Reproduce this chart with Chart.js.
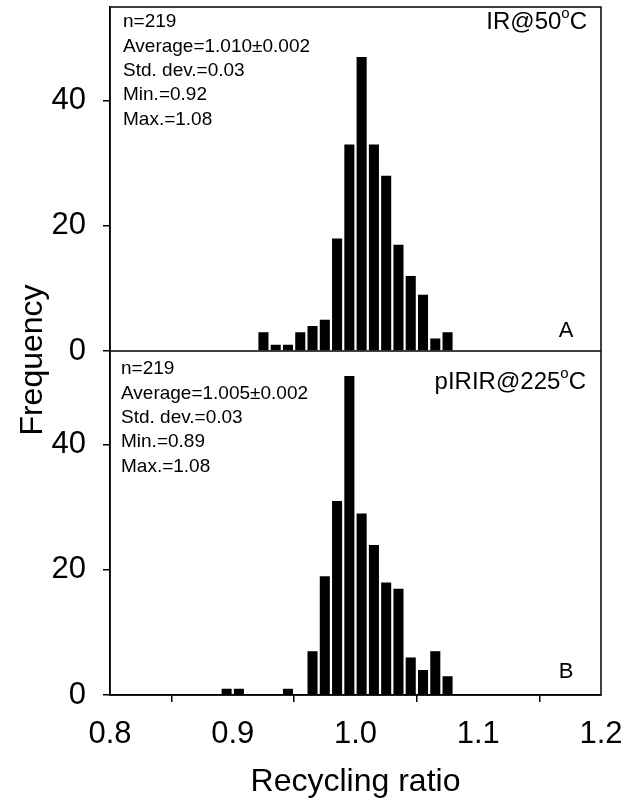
<!DOCTYPE html>
<html>
<head>
<meta charset="utf-8">
<script src="https://cdn.jsdelivr.net/npm/chart.js@4/dist/chart.umd.min.js"></script>
<style>
html,body{margin:0;padding:0;background:#fff;}
#wrap{position:relative;width:633px;height:802px;}
</style>
</head>
<body>
<div id="wrap"><canvas id="c"></canvas></div>
<script>
// Bin centres (recycling ratio) and frequencies
const binsA = [0.925,0.935,0.945,0.955,0.965,0.975,0.985,0.995,1.005,1.015,1.025,1.035,1.045,1.055,1.065,1.075];
const freqA = [3,1,1,3,4,5,18,33,47,33,28,17,12,9,2,3];
const binsB = [0.895,0.905,0.945,0.965,0.975,0.985,0.995,1.005,1.015,1.025,1.035,1.045,1.055,1.065,1.075];
const freqB = [1,1,1,7,19,31,51,29,24,18,17,6,4,7,3];

const xTicks = [0.8,0.9,1.0,1.1,1.2];
const yTicks = [0,20,40];

const statsA = ["n=219","Average=1.010\u00b10.002","Std. dev.=0.03","Min.=0.92","Max.=1.08"];
const statsB = ["n=219","Average=1.005\u00b10.002","Std. dev.=0.03","Min.=0.89","Max.=1.08"];
const labelA = {main:"IR@50", sup:"o", tail:"C", panel:"A"};
const labelB = {main:"pIRIR@225", sup:"o", tail:"C", panel:"B"};
const xTitle = "Recycling ratio";
const yTitle = "Frequency";

const FONT = "Arial, 'Liberation Sans', sans-serif";

function pts(xs, ys){ return xs.map((x,i)=>({x:x, y:ys[i]})); }

const decor = {
  id:'decor',
  afterDraw(chart){
    const ctx = chart.ctx, a = chart.chartArea;
    const yA = chart.scales.yA, yB = chart.scales.yB;
    ctx.save();
    ctx.strokeStyle = '#000';
    ctx.lineWidth = 1.5;
    ctx.strokeRect(a.left, a.top, a.right - a.left, a.bottom - a.top);
    const ySplit = yA.getPixelForValue(0);
    ctx.beginPath(); ctx.moveTo(a.left, ySplit); ctx.lineTo(a.right, ySplit); ctx.stroke();

    ctx.fillStyle = '#000';
    ctx.textBaseline = 'middle';
    ctx.textAlign = 'left';
    ctx.font = '19px ' + FONT;
    const drawStats = (lines, x, y0) => lines.forEach((t,i)=>ctx.fillText(t, x, y0 + i*24.4));
    drawStats(statsA, a.left + 13, yA.top + 15);
    drawStats(statsB, a.left + 11, yB.top + 18);

    const drawLabel = (lab, right, y) => {
      ctx.font = '24px ' + FONT;
      const wMain = ctx.measureText(lab.main).width;
      const wTail = ctx.measureText(lab.tail).width;
      ctx.font = '15px ' + FONT;
      const wSup = ctx.measureText(lab.sup).width;
      let x = right - wMain - wSup - wTail;
      ctx.font = '24px ' + FONT;
      ctx.fillText(lab.main, x, y); x += wMain;
      ctx.font = '15px ' + FONT;
      ctx.fillText(lab.sup, x, y - 8); x += wSup;
      ctx.font = '24px ' + FONT;
      ctx.fillText(lab.tail, x, y);
    };
    drawLabel(labelA, a.right - 14, yA.top + 15);
    drawLabel(labelB, a.right - 15, yB.top + 31);

    ctx.font = '22px ' + FONT;
    ctx.textAlign = 'center';
    ctx.fillText(labelA.panel, a.right - 35, yA.getPixelForValue(0) - 20);
    ctx.fillText(labelB.panel, a.right - 35, yB.getPixelForValue(0) - 23);

    ctx.save();
    ctx.font = '32px ' + FONT;
    ctx.translate(33, 360);
    ctx.rotate(-Math.PI/2);
    ctx.textAlign = 'center';
    ctx.fillText(yTitle, 0, 0);
    ctx.restore();
    ctx.restore();
  }
};

function yAxis(){
  return {
    type:'linear', position:'left', stack:'panels', stackWeight:1,
    min:0, max:55,
    afterBuildTicks(s){ s.ticks = yTicks.map(v=>({value:v})); },
    afterFit(s){ s.width = 110; s.paddingTop = 0; s.paddingBottom = 0; },
    grid:{drawOnChartArea:false, drawTicks:true, tickLength:7, color:'#000', lineWidth:1.5},
    border:{display:true, color:'#000', width:1.5},
    ticks:{color:'#000', font:{family:FONT, size:31}, padding:17}
  };
}

new Chart(document.getElementById('c'), {
  type:'bar',
  data:{
    datasets:[
      {label:'IR@50', data:pts(binsA,freqA), yAxisID:'yA', xAxisID:'x', backgroundColor:'#000', borderWidth:0, grouped:false, barPercentage:0.82, categoryPercentage:1},
      {label:'pIRIR@225', data:pts(binsB,freqB), yAxisID:'yB', xAxisID:'x', backgroundColor:'#000', borderWidth:0, grouped:false, barPercentage:0.82, categoryPercentage:1}
    ]
  },
  options:{
    responsive:true, maintainAspectRatio:false, animation:false,
    layout:{padding:{top:7, right:32, left:0, bottom:0}},
    plugins:{legend:{display:false}, tooltip:{enabled:false}},
    scales:{
      x:{
        type:'linear', min:0.8, max:1.2, offset:false,
        afterBuildTicks(s){ s.ticks = xTicks.map(v=>({value:v})); },
        afterFit(s){ s.height = 107; s.paddingLeft = 0; s.paddingRight = 0; },
        grid:{drawOnChartArea:false, drawTicks:true, tickLength:7, color:'#000', lineWidth:1.5},
        border:{display:true, color:'#000', width:1.5},
        ticks:{color:'#000', font:{family:FONT, size:31}, padding:14, maxRotation:0,
               callback:(v)=>Number(v).toFixed(1)},
        title:{display:true, text:xTitle, color:'#000', font:{family:FONT, size:32}, padding:{top:0, bottom:1}}
      },
      yB: yAxis(),
      yA: yAxis()
    }
  },
  plugins:[decor]
});
</script>
</body>
</html>
